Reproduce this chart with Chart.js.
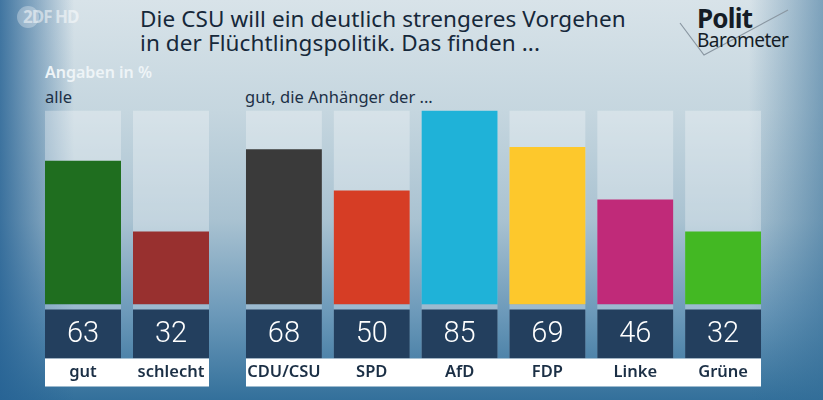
<!DOCTYPE html>
<html>
<head>
<meta charset="utf-8">
<script src="https://cdn.jsdelivr.net/npm/chart.js@4.4.1/dist/chart.umd.min.js"></script>
<style>
  html, body { margin: 0; padding: 0; }
  body {
    width: 823px; height: 400px; position: relative; overflow: hidden;
    font-family: 'Noto Sans', sans-serif;
    background:
      linear-gradient(to right, rgba(38,98,148,0.85) 0%, rgba(38,98,148,0) 9%),
      linear-gradient(to left, rgba(50,108,150,0.55) 0%, rgba(50,108,150,0) 9%),
      linear-gradient(to bottom, #d8e3e9 0%, #c5d6df 28%, #a9c2d1 55%, #6d9aba 78%, #33709b 100%);
  }
  .logo-zdf { position: absolute; left: 17px; top: 6px; width: 22px; height: 22px; border-radius: 50%; background: rgba(255,255,255,0.3); }
  .logo-zdf-text { position: absolute; left: 23px; top: 5px; font: bold 17px 'Noto Sans', sans-serif; color: rgba(255,255,255,0.5); letter-spacing: -1px; }
  .title { position: absolute; left: 140px; top: 7px; font-size: 22.5px; line-height: 24px; color: #16283a; letter-spacing: 0.1px; }
  .unit { position: absolute; left: 45px; top: 61px; font-size: 16px; font-weight: 600; color: #eef4f7; }
  .sub { position: absolute; top: 85px; font-size: 16.5px; color: #1c3046; }
  .polit { position: absolute; left: 697px; top: 0px; font: bold 26px 'Noto Sans', sans-serif; color: #141c26; letter-spacing: -0.8px; }
  .baro { position: absolute; left: 697px; top: 27px; font-size: 19px; color: #141c26; letter-spacing: -0.5px; }
  svg.check { position: absolute; left: 0; top: 0; }
  canvas { position: absolute; top: 0; }
</style>
</head>
<body>
<div class="logo-zdf"></div>
<div class="logo-zdf-text">2DF HD</div>
<div class="title">Die CSU will ein deutlich strengeres Vorgehen<br>in der Flüchtlingspolitik. Das finden ...</div>
<svg class="check" width="823" height="60"><polyline points="680,23 704,55 788,10" fill="none" stroke="#8a97a2" stroke-width="1.2"/></svg>
<div class="polit">Polit</div>
<div class="baro">Barometer</div>
<div class="unit">Angaben in %</div>
<div class="sub" style="left:45px">alle</div>
<div class="sub" style="left:245px">gut, die Anhänger der ...</div>

<div id="wrapAll" style="position:absolute;left:39px;top:0;width:176px;height:400px"><canvas id="chartAll"></canvas></div>
<div id="wrapParty" style="position:absolute;left:240px;top:0;width:527px;height:400px"><canvas id="chartParty"></canvas></div>

<script>
// values
const SCALE_MAX = 85;

const allLabels = ['gut', 'schlecht'];
const allValues = [63, 32];
const allColors = ['#1f6e1f', '#98302f'];

const partyLabels = ['CDU/CSU', 'SPD', 'AfD', 'FDP', 'Linke', 'Grüne'];
const partyValues = [68, 50, 85, 69, 46, 32];
const partyColors = ['#3a3a3a', '#d63d25', '#1fb2d8', '#fdc82c', '#c02a79', '#43b823'];

const TRACK = 'rgba(255,255,255,0.30)';
const NAVY = '#233f5e';

// number boxes + white label strip under the bars
const boxesPlugin = {
    id: 'boxes',
    afterDatasetsDraw(chart) {
        const ctx = chart.ctx;
        const bars = chart.getDatasetMeta(1).data;
        const bottom = chart.chartArea.bottom;
        const labels = chart.data.labels;
        const values = chart.data.datasets[1].data;

        ctx.save();
        bars.forEach((bar, i) => {
            const w = bar.width;
            const left = bar.x - w / 2;
            // track continues behind the number box
            ctx.fillStyle = TRACK;
            ctx.fillRect(left, bottom, w, 54);
            ctx.fillStyle = NAVY;
            ctx.fillRect(left, bottom + 5, w, 49);
            ctx.fillStyle = '#ffffff';
            ctx.font = '300 29px Roboto, sans-serif';
            ctx.textAlign = 'center';
            ctx.textBaseline = 'middle';
            ctx.fillText(values[i], bar.x, bottom + 30);
        });

        const first = bars[0], last = bars[bars.length - 1];
        const x0 = first.x - first.width / 2;
        const x1 = last.x + last.width / 2;
        ctx.fillStyle = '#ffffff';
        ctx.fillRect(x0, bottom + 54, x1 - x0, 28);

        ctx.fillStyle = '#1b2f45';
        ctx.font = '600 16.5px "Noto Sans", sans-serif';
        bars.forEach((bar, i) => {
            ctx.fillText(labels[i], bar.x, bottom + 68);
        });
        ctx.restore();
    }
};

function makeChart(id, labels, values, colors) {
    return new Chart(document.getElementById(id), {
        type: 'bar',
        data: {
            labels: labels,
            datasets: [
                {
                    // light background track up to the scale max
                    data: labels.map(() => SCALE_MAX),
                    backgroundColor: TRACK,
                    order: 2,
                    grouped: false
                },
                {
                    data: values,
                    backgroundColor: colors,
                    order: 1,
                    grouped: false
                }
            ]
        },
        options: {
            responsive: true,
            maintainAspectRatio: false,
            animation: false,
            events: [],
            layout: { padding: { top: 110.5, bottom: 95.5, left: 0, right: 0 } },
            datasets: {
                bar: { categoryPercentage: 1, barPercentage: 76 / 88, borderWidth: 0 }
            },
            plugins: {
                legend: { display: false },
                tooltip: { enabled: false }
            },
            scales: {
                x: { display: false },
                y: { display: false, min: 0, max: SCALE_MAX }
            }
        },
        plugins: [boxesPlugin]
    });
}

makeChart('chartAll', allLabels, allValues, allColors);
makeChart('chartParty', partyLabels, partyValues, partyColors);
</script>
</body>
</html>
